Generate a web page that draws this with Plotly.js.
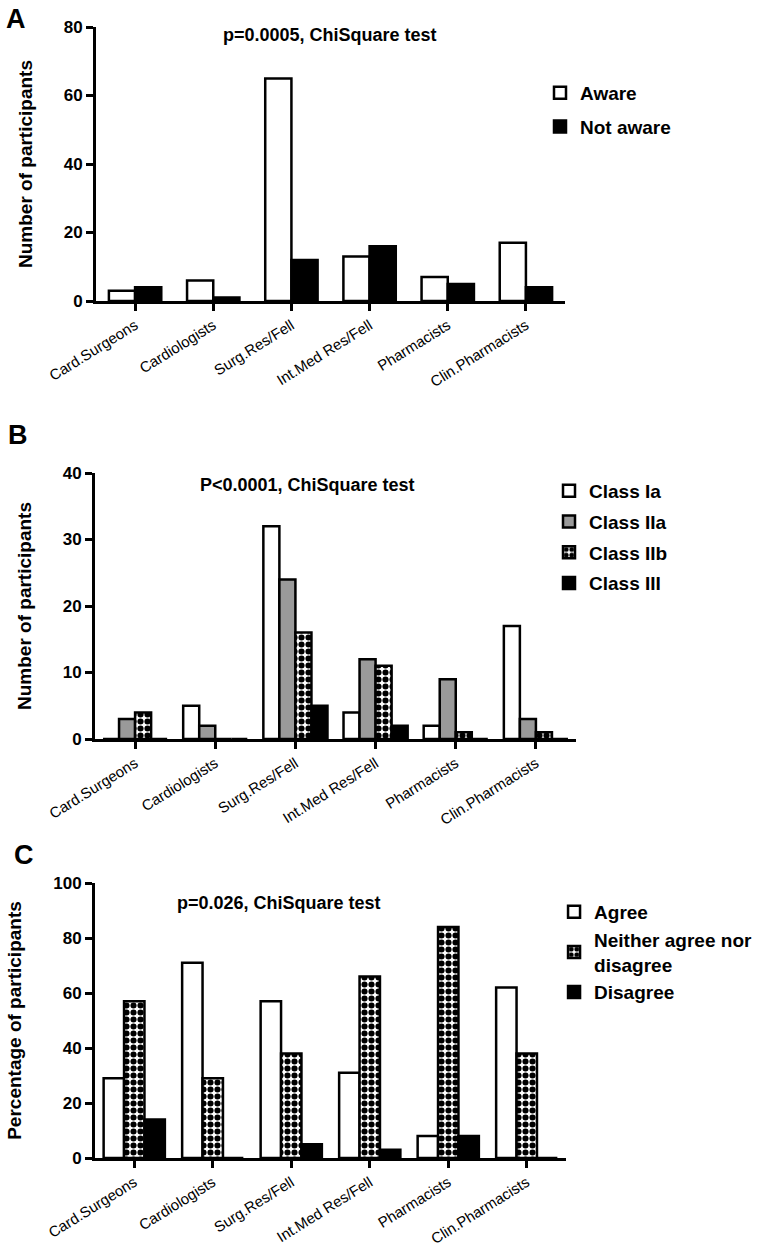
<!DOCTYPE html>
<html>
<head>
<meta charset="utf-8">
<script src="https://cdn.plot.ly/plotly-3.0.1.min.js"></script>
<style>
  body { margin: 0; background: #fff; }
  .panel { position: absolute; left: 0; width: 769px; }
</style>
</head>
<body>
<div id="chartA" class="panel" style="top:0;height:400px"></div>
<div id="chartB" class="panel" style="top:400px;height:432px"></div>
<div id="chartC" class="panel" style="top:832px;height:416px"></div>
<script>
// categorias comunes a los tres paneles
const groups = ['Card.Surgeons', 'Cardiologists', 'Surg.Res/Fell', 'Int.Med Res/Fell', 'Pharmacists', 'Clin.Pharmacists'];

// A: conocimiento
const aware = [3, 6, 65, 13, 7, 17];
const notAware = [4, 1, 12, 16, 5, 4];

// B: clase de recomendacion
const classIa = [0, 5, 32, 4, 2, 17];
const classIIa = [3, 2, 24, 12, 9, 3];
const classIIb = [4, 0, 16, 11, 1, 1];
const classIII = [0, 0, 5, 2, 0, 0];

// C: porcentaje de acuerdo
const agree = [29, 71, 57, 31, 8, 62];
const neither = [57, 29, 38, 66, 84, 38];
const disagree = [14, 0, 5, 3, 8, 0];

const FONT = 'Liberation Sans, Arial, sans-serif';
const checker = { shape: '.', fgcolor: 'black', bgcolor: 'white', size: 7, solidity: 0.6, fillmode: 'replace' };

function bar(name, y, color, pattern) {
  const t = {
    type: 'bar', x: groups, y: y, name: name, legendgroup: name,
    marker: { color: color, line: { color: 'black', width: 2.5 } }
  };
  if (pattern) t.marker.pattern = pattern;
  return t;
}

function makePanel(divId, o) {
  const W = 769, H = o.height, m = o.margin;
  const pw = W - m.l - m.r, ph = H - m.t - m.b;
  const px = v => (v - m.l) / pw;          // pixel -> paper x
  const py = v => (H - m.b - v) / ph;      // pixel -> paper y

  Plotly.newPlot(divId, o.traces, {
    width: W, height: H,
    margin: m,
    paper_bgcolor: 'white', plot_bgcolor: 'white',
    font: { family: FONT, color: 'black' },
    showlegend: true,
    barmode: 'group',
    bargap: o.bargap,
    bargroupgap: 0,
    xaxis: {
      type: 'category',
      range: [-0.5, groups.length - 0.5],
      showline: true, linewidth: 3, linecolor: 'black',
      ticks: 'outside', ticklen: 7, tickwidth: 3, tickcolor: 'black',
      tickangle: -32,
      tickfont: { family: FONT, size: 15, color: 'black' },
      showgrid: false, zeroline: false, fixedrange: true
    },
    yaxis: {
      range: o.yrange, dtick: o.dtick,
      showline: true, linewidth: 3, linecolor: 'black',
      ticks: 'outside', ticklen: 7, tickwidth: 3, tickcolor: 'black',
      tickfont: { family: FONT, size: 17, color: 'black', weight: 'bold' },
      showgrid: false, zeroline: false, fixedrange: true,
      title: { text: o.ytitle, standoff: 27, font: { family: FONT, size: 19, color: 'black', weight: 'bold' } }
    },
    legend: {
      x: px(o.legendX), y: py(o.legendY), xanchor: 'left', yanchor: 'top',
      traceorder: 'grouped', tracegroupgap: o.legendGap,
      font: { family: FONT, size: 19, color: 'black', weight: 'bold' },
      bgcolor: 'rgba(0,0,0,0)'
    },
    annotations: [
      {
        text: o.letter, xref: 'paper', yref: 'paper',
        x: px(o.letterPos[0]), y: py(o.letterPos[1]), xanchor: 'left', yanchor: 'top',
        showarrow: false, font: { family: FONT, size: 27, color: 'black', weight: 'bold' }
      },
      {
        text: o.note, xref: 'paper', yref: 'paper',
        x: px(o.notePos[0]), y: py(o.notePos[1]), xanchor: 'center', yanchor: 'middle',
        showarrow: false, font: { family: FONT, size: 18, color: 'black', weight: 'bold' }
      }
    ]
  }, { staticPlot: true });
}

makePanel('chartA', {
  height: 400, margin: { t: 27, b: 99, l: 96, r: 204 },
  traces: [bar('Aware', aware, 'white'), bar('Not aware', notAware, 'black')],
  bargap: 0.33, yrange: [0, 80], dtick: 20,
  ytitle: 'Number of participants',
  letter: 'A', letterPos: [4, 2],
  note: 'p=0.0005, ChiSquare test', notePos: [330, 35],
  legendX: 540, legendY: 74, legendGap: 6
});

makePanel('chartB', {
  height: 432, margin: { t: 73, b: 93, l: 95, r: 193 },
  traces: [
    bar('Class Ia', classIa, 'white'),
    bar('Class IIa', classIIa, '#9a9a9a'),
    bar('Class IIb', classIIb, 'white', checker),
    bar('Class III', classIII, 'black')
  ],
  bargap: 0.2, yrange: [0, 40], dtick: 10,
  ytitle: 'Number of participants',
  letter: 'B', letterPos: [6, 18],
  note: 'P<0.0001, ChiSquare test', notePos: [307, 85],
  legendX: 549, legendY: 72, legendGap: 3
});

// panel C empieza en y=832 de la pagina
makePanel('chartC', {
  height: 416, margin: { t: 51, b: 90, l: 95, r: 201 },
  traces: [
    bar('Agree', agree, 'white'),
    bar('Neither agree nor<br>disagree', neither, 'white', checker),
    bar('Disagree', disagree, 'black')
  ],
  bargap: 0.22, yrange: [0, 100], dtick: 20,
  ytitle: 'Percentage of participants',
  letter: 'C', letterPos: [12, 6],
  note: 'p=0.026, ChiSquare test', notePos: [280, 71],
  legendX: 556, legendY: 61, legendGap: 0
});
</script>
</body>
</html>
